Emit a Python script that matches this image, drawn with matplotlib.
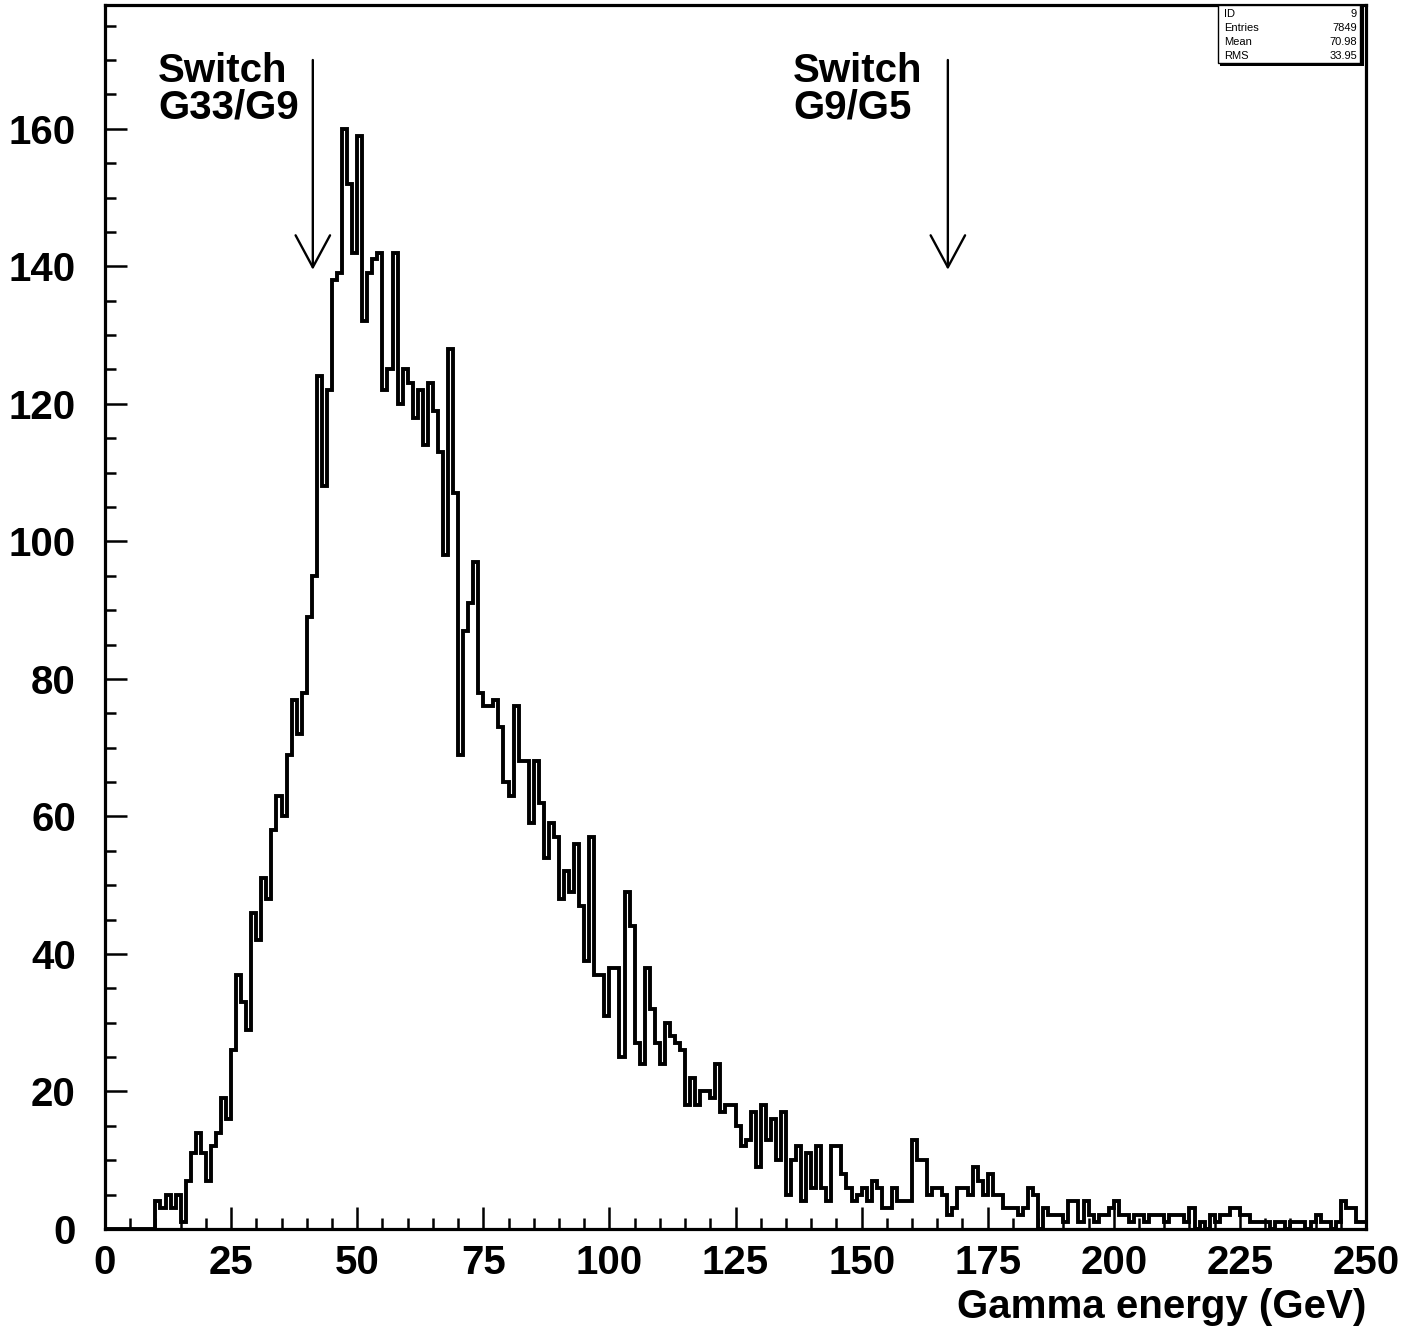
import numpy as np
import matplotlib
matplotlib.use("Agg")
import matplotlib.pyplot as plt
from matplotlib.ticker import MultipleLocator
from matplotlib.patches import Rectangle

plt.rcParams['font.family'] = ['Liberation Sans', 'DejaVu Sans']

# ---- data: 1 GeV bins from 0 to 250 ----
bin_edges = np.arange(0, 251, 1)
counts = [
    0, 0, 0, 0, 0, 0, 0, 0, 0, 0,
    4, 3, 5, 3, 5, 1, 7, 11, 14, 11,
    7, 12, 14, 19, 16, 26, 37, 33, 29, 46,
    42, 51, 48, 58, 63, 60, 69, 77, 72, 78,
    89, 95, 124, 108, 122, 138, 139, 160, 152, 142,
    159, 132, 139, 141, 142, 122, 125, 142, 120, 125,
    123, 118, 122, 114, 123, 119, 113, 98, 128, 107,
    69, 87, 91, 97, 78, 76, 76, 77, 73, 65,
    63, 76, 68, 68, 59, 68, 62, 54, 59, 57,
    48, 52, 49, 56, 47, 39, 57, 37, 37, 31,
    38, 38, 25, 49, 44, 27, 24, 38, 32, 27,
    24, 30, 28, 27, 26, 18, 22, 18, 20, 20,
    19, 24, 17, 18, 18, 15, 12, 13, 17, 9,
    18, 13, 16, 10, 17, 5, 10, 12, 4, 11,
    6, 12, 6, 4, 12, 12, 8, 6, 4, 5,
    6, 4, 7, 6, 3, 3, 6, 4, 4, 4,
    13, 10, 10, 5, 6, 6, 5, 2, 3, 6,
    6, 5, 9, 7, 5, 8, 5, 5, 3, 3,
    3, 2, 3, 6, 5, 0, 3, 2, 2, 2,
    1, 4, 4, 1, 4, 2, 1, 2, 2, 3,
    4, 2, 2, 1, 2, 2, 1, 2, 2, 2,
    1, 2, 2, 2, 1, 3, 0, 1, 0, 2,
    1, 2, 2, 3, 3, 2, 2, 1, 1, 1,
    1, 0, 1, 1, 0, 1, 1, 1, 0, 1,
    2, 1, 1, 0, 1, 4, 3, 3, 1, 1,
]

x_ticks = [0, 25, 50, 75, 100, 125, 150, 175, 200, 225, 250]
y_ticks = [0, 20, 40, 60, 80, 100, 120, 140, 160]
x_label = "Gamma energy (GeV)"

switch_labels = [("Switch", "G33/G9"), ("Switch", "G9/G5")]
switch_text_x = [10.5, 136.4]
arrow_x = [41.2, 167.1]
arrow_top, arrow_bottom = 170.0, 139.5

stats_names = ["ID", "Entries", "Mean", "RMS"]
stats_values = ["9", "7849", "70.98", "33.95"]

# ---- figure ----
W, H = 1420, 1329
fig = plt.figure(figsize=(W / 100, H / 100), dpi=100)
fig.patch.set_facecolor('white')
ax = fig.add_axes([105 / W, 1 - 1229 / H, (1366 - 105) / W, (1229 - 5) / H])

ax.stairs(counts, bin_edges, color='black', linewidth=2.8, baseline=None)

ax.set_xlim(0, 250)
ax.set_ylim(0, 178)

ax.xaxis.set_major_locator(MultipleLocator(25))
ax.xaxis.set_minor_locator(MultipleLocator(5))
ax.yaxis.set_major_locator(MultipleLocator(20))
ax.yaxis.set_minor_locator(MultipleLocator(5))
ax.set_xticks(x_ticks)
ax.set_yticks(y_ticks)
ax.set_xticklabels([str(v) for v in x_ticks])
ax.set_yticklabels([str(v) for v in y_ticks])

for s in ax.spines.values():
    s.set_linewidth(2.3)

ax.tick_params(which='major', direction='in', length=16, width=1.8,
               labelsize=29)
ax.tick_params(which='minor', direction='in', length=8, width=1.8)
ax.tick_params(axis='y', which='major', pad=21)
ax.tick_params(axis='x', which='major', pad=11)
for lbl in ax.get_xticklabels() + ax.get_yticklabels():
    lbl.set_fontweight('bold')

fig.text(1366 / W, 1 - 1318 / H, x_label, ha='right', va='baseline',
         fontsize=29, fontweight='bold')

# switch annotations
for (l1, l2), tx, axx in zip(switch_labels, switch_text_x, arrow_x):
    ax.text(tx, (1229 - 82) / 6.875, l1, ha='left', va='baseline',
            fontsize=29, fontweight='bold')
    ax.text(tx, (1229 - 119) / 6.875, l2, ha='left', va='baseline',
            fontsize=29, fontweight='bold')
    ax.annotate('', xy=(axx, arrow_bottom), xytext=(axx, arrow_top),
                arrowprops=dict(arrowstyle='->,head_length=1.15,head_width=0.62',
                                lw=1.7, color='black', mutation_scale=20,
                                shrinkA=0, shrinkB=0))

# stats box (figure pixel coordinates)
def fx(px):
    return px / W

def fy(py):
    return 1 - py / H

fig.patches.append(Rectangle((fx(1220), fy(66)), fx(144), 61 / H,
                             transform=fig.transFigure, facecolor='black',
                             edgecolor='none', zorder=5))
fig.patches.append(Rectangle((fx(1218), fy(63)), fx(142), 58 / H,
                             transform=fig.transFigure, facecolor='white',
                             edgecolor='black', linewidth=1.0, zorder=6))
for i, (n, v) in enumerate(zip(stats_names, stats_values)):
    yb = 17 + i * 14
    fig.text(fx(1224), fy(yb), n, ha='left', va='baseline', fontsize=8,
             zorder=7)
    fig.text(fx(1357), fy(yb), v, ha='right', va='baseline', fontsize=8,
             zorder=7)

fig.savefig('out.png', dpi=100, facecolor='white')
